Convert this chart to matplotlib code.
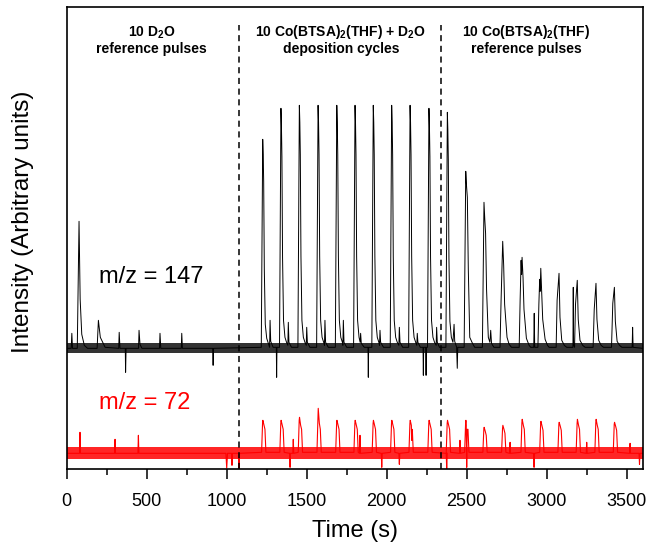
import matplotlib
matplotlib.use("Agg")
import matplotlib.pyplot as plt
import numpy as np

plt.rcParams['font.family'] = ['Liberation Sans', 'DejaVu Sans']
plt.rcParams['mathtext.default'] = 'regular'

# ---------------- data (arbitrary units) ----------------
black_baseline = 121
black_noise = 5
red_baseline = 16
red_noise = 6

# m/z = 147 trace: time (s), intensity
black_t = [
    0, 28, 32, 36,
    66, 77, 84, 94, 110, 130,
    190, 198, 210, 240,
    325, 328, 333, 366, 368, 371,
    449, 452, 458, 470, 580, 583, 588, 716, 719, 723, 912, 915, 918,
    1216, 1225, 1228, 1231, 1235, 1241, 1250, 1260, 1268, 1271, 1275, 1290,
    1310, 1312, 1314,
    1330, 1339, 1342, 1345, 1349, 1355, 1364, 1374, 1382, 1385, 1389, 1405,
    1445, 1454, 1457, 1460, 1464, 1470, 1479, 1489, 1497, 1500, 1504, 1520,
    1562, 1571, 1574, 1577, 1581, 1587, 1596, 1606, 1611, 1614, 1618, 1635,
    1679, 1688, 1691, 1694, 1698, 1704, 1713, 1723, 1726, 1729, 1733, 1750,
    1793, 1802, 1805, 1808, 1812, 1818, 1827, 1834, 1837, 1841, 1860,
    1883, 1885, 1887,
    1907, 1916, 1919, 1922, 1926, 1932, 1941, 1951, 1955, 1958, 1962, 1980,
    2022, 2031, 2034, 2037, 2041, 2047, 2056, 2066, 2076, 2079, 2083, 2100,
    2137, 2146, 2149, 2152, 2156, 2162, 2171, 2181, 2188, 2191, 2195, 2210,
    2227, 2229, 2231, 2244, 2246, 2248,
    2255, 2264, 2267, 2270, 2274, 2280, 2289, 2299, 2309, 2312, 2316, 2330,
    2370, 2379, 2382, 2385, 2389, 2395, 2404, 2414, 2421, 2425, 2437, 2441, 2444,
    2484, 2494, 2499, 2504, 2510, 2519, 2536, 2550,
    2598, 2608, 2613, 2618, 2624, 2635, 2645, 2650, 2655, 2670,
    2708, 2715, 2725, 2731, 2737, 2752, 2765, 2780,
    2828, 2834, 2840, 2843, 2846, 2852, 2858, 2873, 2890, 2900,
    2919, 2922, 2925,
    2945, 2951, 2956, 2959, 2963, 2969, 2975, 2990, 3005, 3015,
    3059, 3065, 3077, 3083, 3094, 3110, 3125,
    3164, 3166, 3168, 3174, 3180, 3191, 3197, 3208, 3225, 3240,
    3290, 3297, 3308, 3314, 3325, 3340, 3355,
    3405, 3413, 3423, 3429, 3440, 3455, 3470,
    3534, 3537, 3540, 3600,
]
black_y = [
    121, 121, 136, 121,
    121, 248, 170, 135, 124, 121,
    121, 149, 132, 122,
    121, 137, 121, 121, 97, 121,
    121, 139, 125, 121, 121, 136, 121, 121, 136, 121, 121, 104, 121,
    122, 330, 315, 288, 200, 145, 131, 126, 122, 149, 128, 122,
    122, 92, 122,
    122, 361, 344, 313, 212, 149, 132, 127, 124, 147, 127, 122,
    122, 364, 347, 315, 213, 149, 132, 127, 124, 142, 127, 122,
    122, 364, 347, 315, 213, 149, 132, 127, 124, 149, 127, 122,
    122, 364, 347, 315, 213, 149, 132, 127, 124, 149, 127, 122,
    122, 364, 347, 315, 213, 149, 132, 127, 136, 126, 122,
    122, 92, 122,
    122, 364, 347, 315, 213, 149, 132, 127, 124, 139, 127, 122,
    122, 364, 347, 315, 213, 149, 132, 127, 124, 142, 127, 122,
    122, 364, 347, 315, 213, 149, 132, 127, 124, 136, 127, 122,
    122, 94, 122, 122, 94, 122,
    122, 361, 344, 313, 212, 149, 132, 127, 124, 142, 127, 122,
    122, 357, 340, 310, 211, 148, 132, 127, 145, 128, 122, 101, 122,
    122, 298, 283, 272, 200, 132, 126, 122,
    122, 267, 250, 236, 180, 132, 127, 139, 126, 122,
    122, 170, 228, 204, 165, 132, 125, 122,
    122, 170, 209, 195, 212, 192, 160, 131, 124, 122,
    122, 156, 122,
    122, 165, 190, 178, 201, 175, 150, 130, 124, 122,
    122, 169, 196, 152, 129, 124, 122,
    122, 182, 125, 122, 165, 189, 150, 129, 124, 122,
    122, 160, 186, 150, 129, 124, 122,
    122, 166, 182, 148, 128, 124, 122,
    122, 142, 122, 121,
]

# m/z = 72 trace: time (s), intensity
red_t = [
    0, 80, 83, 86, 299, 302, 305, 445, 448, 451,
    995, 1000, 1005, 1030, 1033, 1036, 1074, 1077, 1080,
    1218, 1224, 1226, 1233, 1239, 1245,
    1332, 1338, 1340, 1347, 1353, 1359,
    1394, 1396, 1398, 1413, 1416, 1419,
    1447, 1453, 1455, 1462, 1468, 1474,
    1564, 1570, 1572, 1579, 1585, 1591,
    1681, 1687, 1689, 1696, 1702, 1708,
    1795, 1801, 1803, 1810, 1816, 1822,
    1830, 1833, 1836,
    1909, 1915, 1917, 1924, 1930, 1936,
    1966, 1969, 1972,
    2024, 2030, 2032, 2039, 2045, 2051,
    2076, 2079, 2082,
    2139, 2145, 2147, 2154, 2156, 2160, 2166,
    2257, 2263, 2265, 2272, 2278, 2284,
    2372, 2375, 2378,
    2372, 2378, 2380, 2387, 2393, 2399,
    2455, 2458, 2461,
    2487, 2493, 2495, 2497, 2500, 2503, 2508, 2514,
    2601, 2607, 2609, 2616, 2622, 2628,
    2718, 2724, 2726, 2733, 2739, 2745,
    2768, 2771, 2774,
    2839, 2845, 2847, 2854, 2860, 2866,
    2918, 2921, 2924,
    2956, 2962, 2964, 2971, 2977, 2983,
    3070, 3076, 3078, 3085, 3091, 3097,
    3184, 3190, 3192, 3199, 3205, 3211,
    3247, 3250, 3253,
    3301, 3307, 3309, 3316, 3322, 3328,
    3416, 3422, 3424, 3431, 3437, 3443,
    3518, 3521, 3524, 3577, 3580, 3583, 3600,
]
red_y = [
    16, 16, 37, 16, 16, 30, 16, 16, 34, 16,
    16, 1, 16, 16, 4, 16, 16, 1, 16,
    17, 46, 49, 44, 40, 17,
    17, 46, 49, 44, 40, 17,
    16, 2, 16, 16, 30, 16,
    17, 49, 52, 44, 40, 17,
    17, 49, 61, 46, 40, 17,
    17, 46, 49, 44, 40, 17,
    17, 46, 49, 44, 40, 17,
    16, 34, 16,
    17, 46, 49, 44, 40, 17,
    16, 2, 16,
    17, 46, 49, 44, 40, 17,
    16, 5, 16,
    17, 46, 49, 44, 29, 40, 17,
    17, 46, 49, 44, 40, 17,
    16, 0, 16,
    17, 46, 49, 44, 40, 17,
    16, 29, 16,
    17, 46, 49, 44, 2, 40, 40, 17,
    17, 40, 42, 38, 34, 17,
    17, 41, 44, 40, 36, 17,
    16, 27, 16,
    17, 47, 50, 44, 40, 17,
    16, 2, 16,
    17, 45, 48, 43, 39, 17,
    17, 45, 47, 43, 39, 17,
    17, 46, 50, 44, 40, 17,
    16, 27, 16,
    17, 47, 50, 44, 40, 17,
    17, 45, 47, 43, 39, 17,
    16, 26, 16, 16, 5, 16, 16,
]

boundaries = [1077, 2337]
x_ticks = [0, 500, 1000, 1500, 2000, 2500, 3000, 3500]
header_x = [529, 1714, 2872]
header_line1 = ["10 D$_2$O", "10 Co(BTSA)$_2$(THF) + D$_2$O", "10 Co(BTSA)$_2$(THF)"]
header_line2 = ["reference pulses", "deposition cycles", "reference pulses"]

# ---------------- figure ----------------
fig = plt.figure(figsize=(6.49, 5.42), dpi=100)
ax = fig.add_axes([0.1028, 0.1341, 0.9903 - 0.1028, 0.9865 - 0.1341])

t_full = [0, 3600]
ax.fill_between(t_full, [black_baseline - black_noise] * 2, [black_baseline + black_noise] * 2,
                color='black', alpha=0.8, linewidth=0)
ax.fill_between(t_full, [red_baseline - red_noise] * 2, [red_baseline + red_noise] * 2,
                color='red', alpha=0.85, linewidth=0)

ax.plot(black_t, black_y, color='black', lw=0.7)
ax.plot(red_t, red_y, color='red', lw=0.8)

for b in boundaries:
    ax.plot([b, b], [0, 444], color='black', lw=1.1, linestyle=(0, (4, 3)))

for x, l1, l2 in zip(header_x, header_line1, header_line2):
    ax.text(x, 437, l1, ha='center', va='center', fontsize=10, fontweight='bold')
    ax.text(x, 420, l2, ha='center', va='center', fontsize=10, fontweight='bold')

ax.text(204, 192, "m/z = 147", ha='left', va='center', fontsize=17, color='black')
ax.text(204, 66, "m/z = 72", ha='left', va='center', fontsize=17, color='red')

ax.set_xlim(0, 3600)
ax.set_ylim(0, 462)
ax.set_xticks(x_ticks)
ax.set_xticks([250, 750, 1250, 1750, 2250, 2750, 3250], minor=True)
ax.set_yticks([])
ax.tick_params(axis='x', which='major', direction='out', length=7, width=1.1,
               labelsize=13, pad=10)
ax.tick_params(axis='x', which='minor', direction='out', length=4, width=1.1)
for s in ax.spines.values():
    s.set_linewidth(1.2)

ax.set_xlabel("Time (s)", fontsize=17, labelpad=7)
ax.set_ylabel("Intensity (Arbitrary units)", fontsize=17.5)
ax.yaxis.set_label_coords(-0.057, 0.535)

fig.savefig("out.png", dpi=100)
